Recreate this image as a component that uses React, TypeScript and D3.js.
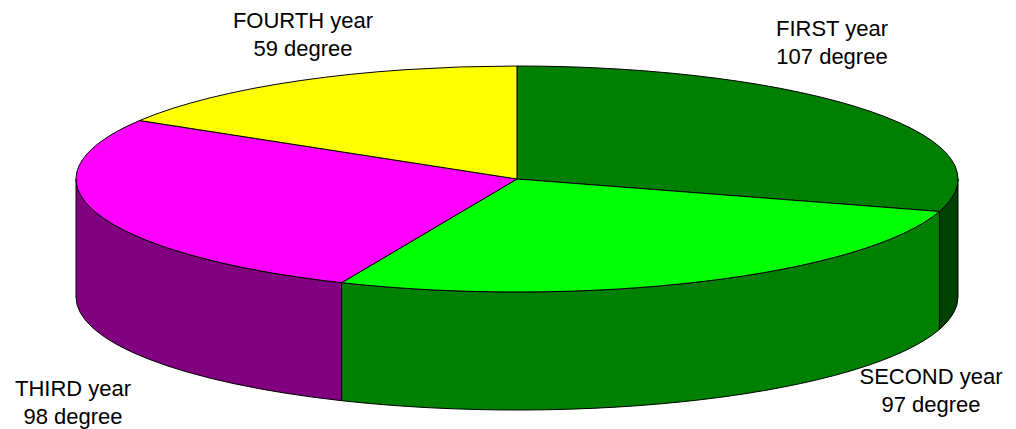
import React from "react";
import * as d3 from "d3";

const categories = ["FIRST year", "SECOND year", "THIRD year", "FOURTH year"];
const values = [107, 97, 98, 59];
const valueLabels = ["107 degree", "97 degree", "98 degree", "59 degree"];
const topColors = ["#008000", "#00FF00", "#FF00FF", "#FFFF00"];
const wallColors = ["#004000", "#008000", "#800080", "#808000"];

// layout
const W = 1016, H = 429;
const CX = 517, CY = 179, RX = 441, RY = 113, DEPTH = 118;
const labelPos: [number, number][] = [
  [832, 36],
  [931, 384],
  [73, 396],
  [303, 28],
];

const px = (a: number) => CX + RX * Math.sin(a);
const py = (a: number) => CY - RY * Math.cos(a);

function topPath(a0: number, a1: number) {
  const large = a1 - a0 > Math.PI ? 1 : 0;
  return `M${CX},${CY}L${px(a0)},${py(a0)}A${RX},${RY} 0 ${large} 1 ${px(a1)},${py(a1)}Z`;
}

function wallPath(a0: number, a1: number) {
  const s = Math.max(a0, Math.PI / 2);
  const e = Math.min(a1, (3 * Math.PI) / 2);
  if (e <= s) return null;
  const large = e - s > Math.PI ? 1 : 0;
  return (
    `M${px(s)},${py(s)}A${RX},${RY} 0 ${large} 1 ${px(e)},${py(e)}` +
    `L${px(e)},${py(e) + DEPTH}A${RX},${RY} 0 ${large} 0 ${px(s)},${py(s) + DEPTH}Z`
  );
}

export default function App() {
  const pie = d3.pie<number>().sort(null).value((d) => d);
  const arcs = pie(values);
  return (
    <svg
      width={W}
      height={H}
      style={{ position: "fixed", left: 0, top: 0, display: "block", background: "#fff" }}
      fontFamily="'Liberation Sans', Arial, sans-serif"
    >
      <g>
        {arcs.map((a, i) => {
          const d = wallPath(a.startAngle, a.endAngle);
          return d ? (
            <path key={"w" + i} d={d} fill={wallColors[i]} stroke="#000" strokeWidth={1} strokeLinejoin="round" />
          ) : null;
        })}
      </g>
      <g>
        {arcs.map((a, i) => (
          <path key={"t" + i} d={topPath(a.startAngle, a.endAngle)} fill={topColors[i]} stroke="#000" strokeWidth={1} strokeLinejoin="round" />
        ))}
      </g>
      <g fontSize={22} fill="#000" textAnchor="middle">
        {categories.map((c, i) => (
          <text key={"l" + i} x={labelPos[i][0]} y={labelPos[i][1]}>
            <tspan x={labelPos[i][0]}>{c}</tspan>
            <tspan x={labelPos[i][0]} dy={28}>{valueLabels[i]}</tspan>
          </text>
        ))}
      </g>
    </svg>
  );
}
